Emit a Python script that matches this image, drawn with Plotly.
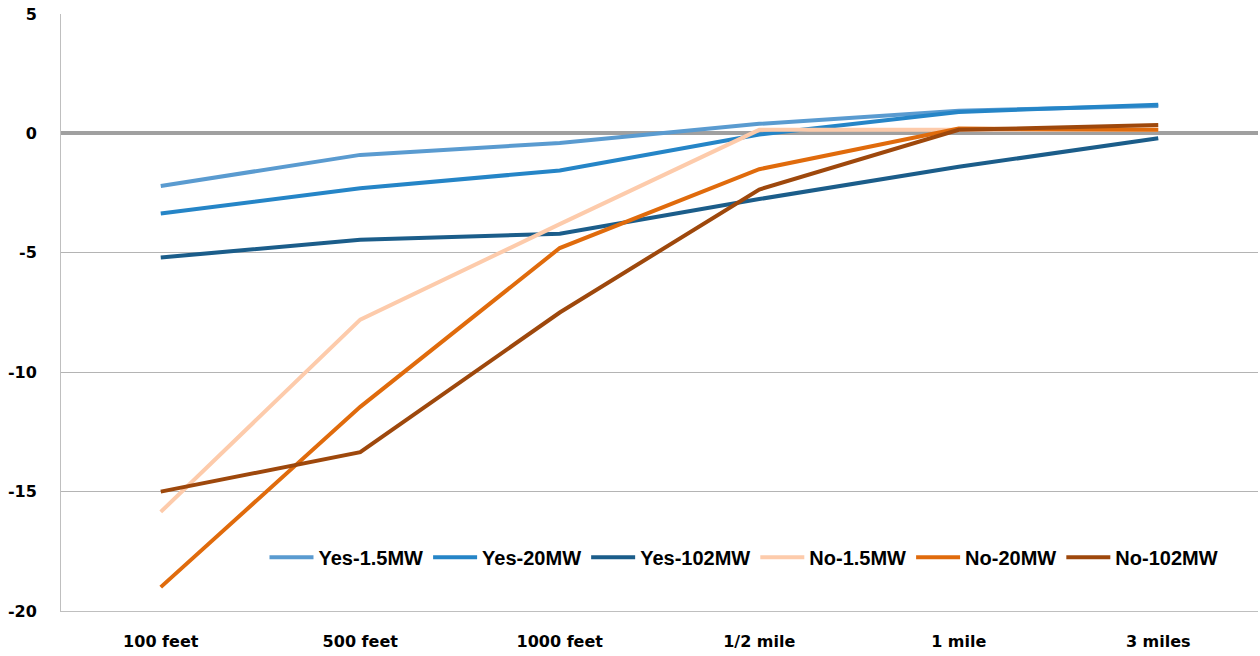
import plotly.graph_objects as go

categories = ["100 feet", "500 feet", "1000 feet", "1/2 mile", "1 mile", "3 miles"]
yes_15 = [-2.2, -0.9, -0.4, 0.4, 0.95, 1.15]
yes_20 = [-3.35, -2.3, -1.55, -0.05, 0.9, 1.2]
yes_102 = [-5.2, -4.45, -4.2, -2.75, -1.4, -0.2]
no_15 = [-15.85, -7.8, -3.8, 0.15, 0.15, 0.15]
no_20 = [-19.0, -11.45, -4.8, -1.5, 0.2, 0.15]
no_102 = [-15.0, -13.35, -7.5, -2.35, 0.15, 0.35]

y_tick_vals = [5, 0, -5, -10, -15, -20]
y_tick_text = ["5", "0", "-5", "-10", "-15", "-20"]

series = [
    ("Yes-1.5MW", yes_15, "#5a9bd0"),
    ("Yes-20MW", yes_20, "#2585c7"),
    ("Yes-102MW", yes_102, "#1b5d8a"),
    ("No-1.5MW", no_15, "#fdcbab"),
    ("No-20MW", no_20, "#e06b0c"),
    ("No-102MW", no_102, "#9e480c"),
]

fig = go.Figure()
for name, vals, color in series:
    fig.add_trace(go.Scatter(x=categories, y=vals, mode="lines", name=name,
                             line=dict(color=color, width=4)))

fig.update_layout(
    width=1260, height=656,
    margin=dict(l=61, r=2, t=14, b=45),
    plot_bgcolor="white", paper_bgcolor="white",
    font=dict(family="DejaVu Sans", color="black"),
    showlegend=True,
    legend=dict(orientation="h", x=0.17, y=0.09, xanchor="left", yanchor="middle",
                font=dict(family="Liberation Sans", size=20, color="black", weight="bold"),
                bgcolor="rgba(0,0,0,0)", itemwidth=44, tracegroupgap=0),
    xaxis=dict(type="category", range=[-0.5, 5.5], showgrid=False, showline=True,
               linecolor="#bfbfbf", linewidth=1, ticks="",
               ticklabelstandoff=16,
               tickfont=dict(family="DejaVu Sans", size=16, weight="bold")),
    yaxis=dict(range=[-20, 5], tickvals=y_tick_vals, ticktext=y_tick_text,
               showgrid=True, gridcolor="#b4b4b4", gridwidth=1,
               zeroline=True, zerolinecolor="#a0a0a0", zerolinewidth=4,
               showline=True, linecolor="#bfbfbf", linewidth=1, ticks="",
               ticklabelstandoff=20,
               tickfont=dict(family="DejaVu Sans", size=16, weight="bold")),
)

fig.write_html(
    "out.html",
    config={"displayModeBar": False},
    post_script="document.body.style.margin='0';document.body.style.overflow='hidden';",
)
